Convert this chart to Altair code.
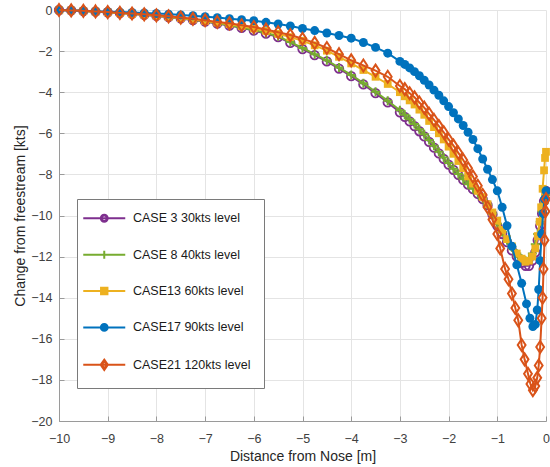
import altair as alt
import pandas as pd

series_names = ["CASE 3 30kts level", "CASE 8 40kts level", "CASE13 60kts level",
                "CASE17 90kts level", "CASE21 120kts level"]
series_colors = ["#7E2F8E", "#77AC30", "#EDB120", "#0072BD", "#D95319"]

x_ticks = [-10, -9, -8, -7, -6, -5, -4, -3, -2, -1, 0]
y_ticks = [-20, -18, -16, -14, -12, -10, -8, -6, -4, -2, 0]

x_main = [-10.0, -9.75, -9.5, -9.25, -9.0, -8.75, -8.5, -8.25, -8.0, -7.75, -7.5, -7.25,
          -7.0, -6.75, -6.5, -6.25, -6.0, -5.75, -5.5, -5.25, -5.0, -4.75, -4.5, -4.25,
          -4.0, -3.75, -3.5, -3.25, -3.0, -2.9, -2.8, -2.7, -2.6, -2.5, -2.4, -2.3,
          -2.2, -2.1, -2.0, -1.9, -1.8, -1.7, -1.6, -1.5, -1.4, -1.3, -1.2, -1.1]

# CASE 3 30kts
y_case3_main = [0, -0.02, -0.05, -0.08, -0.11, -0.15, -0.19, -0.24, -0.29, -0.35, -0.41, -0.49,
                -0.57, -0.66, -0.76, -0.87, -1.0, -1.15, -1.32, -1.6, -1.9, -2.2, -2.5, -2.85,
                -3.22, -3.62, -4.05, -4.5, -4.98, -5.2, -5.42, -5.65, -5.9, -6.15, -6.42, -6.7,
                -6.98, -7.25, -7.52, -7.78, -8.02, -8.27, -8.5, -8.72, -8.95, -9.2, -9.5, -9.95]
x_case3_tail = [-1.0, -0.9, -0.8, -0.7, -0.6, -0.5, -0.42, -0.35, -0.28, -0.22, -0.17, -0.12, -0.08, -0.04, 0.0]
y_case3_tail = [-10.5, -10.9, -11.3, -11.7, -12.0, -12.3, -12.45, -12.45, -12.2, -11.8, -11.2, -10.5, -9.9, -9.3, -8.8]

# CASE 8 40kts
y_case8_main = [0, -0.02, -0.05, -0.08, -0.11, -0.14, -0.18, -0.23, -0.28, -0.34, -0.4, -0.47,
                -0.55, -0.64, -0.74, -0.85, -0.97, -1.12, -1.28, -1.56, -1.85, -2.15, -2.45, -2.8,
                -3.16, -3.56, -3.98, -4.42, -4.88, -5.1, -5.32, -5.55, -5.8, -6.05, -6.32, -6.6,
                -6.9, -7.18, -7.45, -7.72, -7.98, -8.24, -8.48, -8.7, -8.92, -9.18, -9.48, -9.9]
x_case8_tail = [-1.0, -0.9, -0.8, -0.7, -0.6, -0.5, -0.42, -0.35, -0.28, -0.22, -0.17, -0.12, -0.08, -0.04, 0.0]
y_case8_tail = [-10.4, -10.8, -11.2, -11.55, -11.85, -12.1, -12.2, -12.1, -11.85, -11.4, -10.9, -10.3, -9.8, -9.4, -9.0]

# CASE13 60kts
y_case13_main = [0, -0.02, -0.05, -0.08, -0.11, -0.15, -0.19, -0.23, -0.28, -0.33, -0.39, -0.46,
                 -0.53, -0.61, -0.69, -0.79, -0.9, -1.02, -1.16, -1.32, -1.5, -1.72, -1.98, -2.28,
                 -2.6, -2.92, -3.25, -3.6, -4.0, -4.2, -4.4, -4.6, -4.85, -5.1, -5.4, -5.7,
                 -6.0, -6.3, -6.65, -7.0, -7.35, -7.7, -8.1, -8.45, -8.8, -9.1, -9.45, -9.85]
x_case13_tail = [-1.0, -0.9, -0.8, -0.7, -0.6, -0.5, -0.42, -0.35, -0.28, -0.22, -0.17, -0.13, -0.1, -0.07, -0.04, -0.02, 0.0]
y_case13_tail = [-10.25, -10.7, -11.15, -11.5, -11.85, -12.1, -12.25, -12.2, -12.0, -11.6, -11.0, -10.3, -9.6, -8.7, -7.8, -7.2, -6.9]

# CASE17 90kts
y_case17_main = [0, -0.02, -0.04, -0.06, -0.08, -0.1, -0.12, -0.14, -0.17, -0.2, -0.24, -0.28,
                 -0.33, -0.37, -0.42, -0.47, -0.52, -0.6, -0.68, -0.78, -0.9, -1.0, -1.12, -1.24,
                 -1.37, -1.58, -1.82, -2.1, -2.5, -2.65, -2.82, -3.0, -3.2, -3.42, -3.65, -3.9,
                 -4.15, -4.42, -4.7, -5.0, -5.3, -5.62, -5.95, -6.3, -6.75, -7.25, -7.75, -8.25]
x_case17_tail = [-1.0, -0.9, -0.8, -0.7, -0.6, -0.5, -0.4, -0.33, -0.27, -0.22, -0.18, -0.15, -0.12, -0.09, -0.06, -0.03, 0.0]
y_case17_tail = [-8.8, -9.6, -10.5, -11.5, -12.4, -13.3, -14.3, -15.0, -15.4, -15.3, -14.6, -13.6, -12.2, -10.9, -9.9, -9.2, -8.8]

# CASE21 120kts
y_case21_main = [0, -0.02, -0.04, -0.07, -0.1, -0.14, -0.17, -0.21, -0.26, -0.31, -0.37, -0.43,
                 -0.5, -0.58, -0.65, -0.74, -0.83, -0.95, -1.08, -1.22, -1.4, -1.6, -1.85, -2.15,
                 -2.45, -2.7, -2.95, -3.25, -3.7, -3.85, -4.05, -4.25, -4.5, -4.75, -5.05, -5.35,
                 -5.65, -5.95, -6.3, -6.6, -6.95, -7.3, -7.7, -8.1, -8.55, -9.0, -9.6, -10.2]
x_case21_tail = [-1.0, -0.94, -0.84, -0.77, -0.7, -0.63, -0.57, -0.5, -0.44, -0.37, -0.32, -0.27,
                 -0.22, -0.18, -0.15, -0.12, -0.09, -0.07, -0.05, -0.03, -0.01, 0.0]
y_case21_tail = [-10.9, -11.6, -12.6, -13.1, -13.8, -14.5, -15.1, -16.3, -17.0, -17.7, -18.2, -18.5,
                 -18.3, -17.9, -17.3, -16.4, -15.0, -14.0, -12.6, -11.2, -9.8, -9.2]

series_x = [x_main + x_case3_tail, x_main + x_case8_tail, x_main + x_case13_tail,
            x_main + x_case17_tail, x_main + x_case21_tail]
series_y = [y_case3_main + y_case3_tail, y_case8_main + y_case8_tail, y_case13_main + y_case13_tail,
            y_case17_main + y_case17_tail, y_case21_main + y_case21_tail]

# marker styles (MATLAB-like)
PLUS = "M-1,0H1M0,-1V1"
DIAMOND = "M0,-1.3L0.85,0L0,1.3L-0.85,0Z"
marker_shape = ["circle", PLUS, "square", "circle", DIAMOND]
marker_filled = [False, False, True, True, False]
marker_size = [72, 81, 60, 80, 85]
marker_sw = [1.8, 2, 1, 1, 2]

# legend symbols: line + marker (hollow markers drawn as rings)
LN = "M-5.25,0H5.25"
legend_paths = [
    LN + "M-0.86,0A0.86,0.86 0 1,1 0.86,0A0.86,0.86 0 1,1 -0.86,0Z"
       + "M-0.66,0A0.66,0.66 0 1,0 0.66,0A0.66,0.66 0 1,0 -0.66,0Z",
    LN + "M0,-1V1",
    LN + "M-0.8,-0.8H0.8V0.8H-0.8Z",
    LN + "M-0.85,0A0.85,0.85 0 1,1 0.85,0A0.85,0.85 0 1,1 -0.85,0Z",
    LN + "M0,-1.3L0.9,0L0,1.3L-0.9,0Z" + "M0,-0.95L-0.6,0L0,0.95L0.6,0Z",
]

W, H = 487, 411
FONT = "Liberation Sans"
AXC = "#9a9a9a"
GRID = "#e4e4e4"
TXT = "#404040"

xscale = alt.Scale(domain=[-10, 0], nice=False, zero=False)
yscale = alt.Scale(domain=[-20, 0], nice=False, zero=False)

x_axis_main = alt.Axis(orient="bottom", values=x_ticks, grid=True, gridColor=GRID, ticks=False,
                       tickSize=0, domain=True, domainColor=AXC, labelFont=FONT, labelFontSize=12.5,
                       labelColor=TXT, labelPadding=11, labelFlush=False, labelOverlap=False,
                       title="Distance from Nose [m]", titleFont=FONT, titleFontSize=14,
                       titleFontWeight="normal", titleColor="#262626", titleX=W / 2, titleY=35,
                       titleBaseline="middle")
y_axis_main = alt.Axis(orient="left", values=y_ticks, grid=True, gridColor=GRID, ticks=False,
                       tickSize=0, domain=True, domainColor=AXC, labelFont=FONT, labelFontSize=12.5,
                       labelColor=TXT, labelPadding=7, labelFlush=False, labelOverlap=False,
                       title="Change from freestream [kts]", titleFont=FONT, titleFontSize=14,
                       titleFontWeight="normal", titleColor="#262626", titleX=-39, titleY=H / 2,
                       titleAngle=270, titleBaseline="middle", titleAlign="center")
x_axis_ticks = alt.Axis(orient="top", offset=-H, values=x_ticks, grid=False, labels=False,
                        domain=False, ticks=True, tickSize=5, tickColor=AXC, title="")
y_axis_ticks = alt.Axis(orient="right", offset=-W, values=y_ticks, grid=False, labels=False,
                        domain=False, ticks=True, tickSize=5, tickColor=AXC, title="")

legend_df = pd.DataFrame({"x": [sx[0] for sx in series_x], "y": [sy[0] for sy in series_y],
                          "series": series_names})
leg = alt.Legend(orient="none", legendX=18, legendY=189, title=None, fillColor="white",
                 strokeColor="#7a7a7a", padding=13, rowPadding=20.4, labelFont=FONT,
                 labelFontSize=12.5, labelColor="#1a1a1a", labelOffset=22.5, symbolOffset=8,
                 symbolSize=64, symbolStrokeWidth=2, symbolOpacity=1, direction="vertical")
legend_layer = alt.Chart(legend_df).mark_point(filled=True, size=64, strokeWidth=2, clip=True,
                                               opacity=1).encode(
    x=alt.X("x:Q", scale=xscale, axis=None),
    y=alt.Y("y:Q", scale=yscale, axis=None),
    shape=alt.Shape("series:N", scale=alt.Scale(domain=series_names, range=legend_paths), legend=leg),
    fill=alt.Fill("series:N", scale=alt.Scale(domain=series_names, range=series_colors), legend=leg),
    stroke=alt.Stroke("series:N", scale=alt.Scale(domain=series_names, range=series_colors), legend=leg),
)

layers = [legend_layer]
for i, name in enumerate(series_names):
    df = pd.DataFrame({"x": series_x[i], "y": series_y[i], "series": name})
    base = alt.Chart(df)
    line = base.mark_line(color=series_colors[i], strokeWidth=2).encode(
        x=alt.X("x:Q", scale=xscale, axis=x_axis_main if i == 0 else None),
        y=alt.Y("y:Q", scale=yscale, axis=y_axis_main if i == 0 else None),
    )
    pts = base.mark_point(shape=marker_shape[i], filled=marker_filled[i], color=series_colors[i],
                          size=marker_size[i], strokeWidth=marker_sw[i], opacity=1).encode(
        x=alt.X("x:Q", scale=xscale, axis=x_axis_ticks if i == 0 else None),
        y=alt.Y("y:Q", scale=yscale, axis=y_axis_ticks if i == 0 else None),
    )
    layers += [line, pts]

chart = alt.layer(*layers).resolve_axis(x="independent", y="independent").properties(
    width=W, height=H,
    autosize=alt.AutoSizeParams(type="none"),
    padding={"left": 59, "top": 10, "right": 4, "bottom": 46},
    background="white",
).configure_view(strokeWidth=0)

chart.save("out.html", embed_options={"renderer": "svg", "actions": False})
